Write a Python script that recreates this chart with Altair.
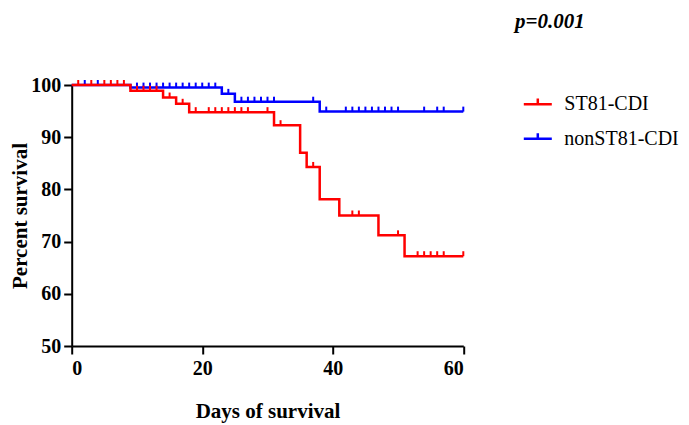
import altair as alt
import pandas as pd

# ---- data ----
GROUPS = ["ST81-CDI", "nonST81-CDI"]
COLORS = ["#FF0000", "#0000FF"]

# ST81-CDI (red) step curve: event days and survival after each event
red_days = [0, 9, 14, 16, 18, 31, 35, 36, 38, 41, 47, 51, 60]
red_surv = [100, 98.9, 97.6, 96.4, 94.8, 92.3, 87.0, 84.3, 78.1, 75.0, 71.2, 67.2, 67.2]
# red censor marks
red_cens_days = [1, 3, 5, 6, 7, 8, 10, 11, 12, 13, 15, 17, 19, 21, 22, 23, 24, 25, 26, 27, 30,
                 32, 37, 43, 44, 50, 53, 54, 55, 56, 57, 60]
red_cens_surv = [100, 100, 100, 100, 100, 100, 98.9, 98.9, 98.9, 98.9, 97.6, 96.4,
                 94.8, 94.8, 94.8, 94.8, 94.8, 94.8, 94.8, 94.8, 94.8,
                 92.3, 84.3, 75.0, 75.0, 71.2, 67.2, 67.2, 67.2, 67.2, 67.2, 67.2]

# nonST81-CDI (blue)
blue_days = [0, 9, 23, 25, 38, 60]
blue_surv = [100, 99.5, 98.3, 96.8, 94.9, 94.9]
blue_cens_days = [2, 4, 10, 11, 12, 13, 14, 15, 16, 17, 18, 19, 20, 21, 22, 24,
                  26, 27, 28, 29, 30, 31, 37, 39, 42, 43, 44, 45, 46, 47, 48, 49, 50,
                  54, 56, 57, 60]
blue_cens_surv = [100, 100] + [99.5] * 13 + [98.3] + [96.8] * 7 + [94.9] * 14

P_TEXT = "p=0.001"
X_TITLE = "Days of survival"
Y_TITLE = "Percent survival"

red_line = pd.DataFrame({"day": red_days, "surv": red_surv, "group": GROUPS[0]})
blue_line = pd.DataFrame({"day": blue_days, "surv": blue_surv, "group": GROUPS[1]})
red_cens = pd.DataFrame({"day": red_cens_days, "surv": red_cens_surv, "group": GROUPS[0]})
blue_cens = pd.DataFrame({"day": blue_cens_days, "surv": blue_cens_surv, "group": GROUPS[1]})

FONT = "Liberation Serif, Times New Roman, DejaVu Serif, serif"

xscale = alt.Scale(domain=[0, 60], nice=False, zero=False)
yscale = alt.Scale(domain=[50, 100], nice=False, zero=False)
cscale = alt.Scale(domain=GROUPS, range=COLORS)

xax = alt.Axis(values=[0, 20, 40, 60], title=X_TITLE, labelPadding=4, titlePadding=22)
yax = alt.Axis(values=[50, 60, 70, 80, 90, 100], title=Y_TITLE, labelPadding=3,
               titleX=-41, titleBaseline="bottom")

legend = alt.Legend(title=None, orient="none", legendX=450.6, legendY=3.7,
                    symbolType="M-1,0H1M0,0V-0.4", symbolSize=784, symbolStrokeWidth=2.5,
                    labelOffset=11, rowPadding=8.6, padding=0)


def line_layer(df, show_legend):
    return alt.Chart(df).mark_line(interpolate="step-after", strokeWidth=2.5, clip=False).encode(
        x=alt.X("day:Q", scale=xscale, axis=xax),
        y=alt.Y("surv:Q", scale=yscale, axis=yax),
        color=alt.Color("group:N", scale=cscale, legend=legend if show_legend else None),
    )


def cens_layer(df):
    return alt.Chart(df).mark_tick(orient="vertical", size=5, thickness=2, yOffset=-2.5,
                                   opacity=1, clip=False).encode(
        x=alt.X("day:Q", scale=xscale, axis=xax),
        y=alt.Y("surv:Q", scale=yscale, axis=yax),
        color=alt.Color("group:N", scale=cscale, legend=None),
    )


ptext = alt.Chart(pd.DataFrame({"t": [P_TEXT]})).mark_text(
    font=FONT, fontSize=21, fontWeight="bold", fontStyle="italic", align="left",
    baseline="alphabetic", color="black").encode(
    x=alt.value(443.3), y=alt.value(-57), text="t:N")

chart = alt.layer(
    line_layer(blue_line, True),
    cens_layer(blue_cens),
    line_layer(red_line, True),
    cens_layer(red_cens),
    ptext,
).properties(
    width=391.6, height=261,
    autosize=alt.AutoSizeParams(type="none"),
    padding={"left": 63.7, "top": 77, "right": 217.7, "bottom": 85},
    background="white",
).configure(
    font=FONT,
).configure_view(
    stroke=None,
).configure_axis(
    grid=False, domainColor="black", domainWidth=2, tickColor="black", tickWidth=2,
    tickSize=8, labelFont=FONT, labelFontSize=20, labelFontWeight="bold",
    labelColor="black", titleFont=FONT, titleFontSize=21, titleFontWeight="bold",
    titleColor="black",
).configure_legend(
    labelFont=FONT, labelFontSize=20, labelColor="black", labelLimit=300,
)

chart.save("out.html", embed_options={"renderer": "svg", "actions": False})
